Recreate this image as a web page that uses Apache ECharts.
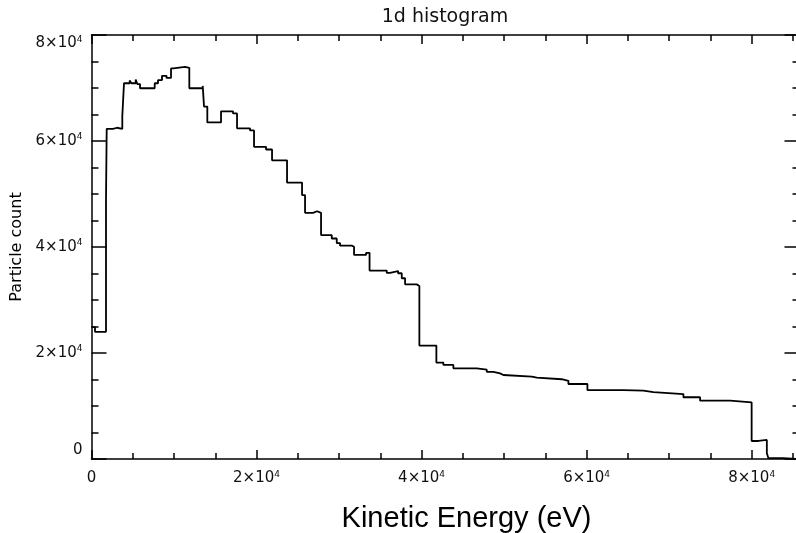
<!DOCTYPE html>
<html>
<head>
<meta charset="utf-8">
<script src="https://cdn.jsdelivr.net/npm/echarts@6/dist/echarts.min.js"></script>
<style>
html,body{margin:0;padding:0;background:#fff;}
#chart{width:796px;height:533px;}
</style>
</head>
<body>
<div id="chart"></div>
<script>
// Bin start energies (eV) of each histogram level
const binStart = [0, 424, 1758, 1842, 2606, 3091, 3733, 3939, 4630, 4824, 5357, 5551, 5879,
  7660, 8060, 8545, 9091, 9636, 9939, 11333, 11854, 13479, 13636, 14036, 15697, 17152, 17636,
  19212, 19697, 21152, 21879, 23697, 25515, 25879, 26848, 27333, 27818, 29115, 29721, 30121,
  31539, 31818, 33273, 33697, 35782, 36182, 37152, 37600, 38000, 39418, 39733, 41794, 42642,
  43855, 46691, 47903, 48703, 49515, 49915, 53357, 53963, 56994, 57794, 60097, 64460, 66885,
  68097, 71733, 73752, 77388, 80000, 80824, 81842, 82036, 83855, 85800];
// Particle count of each level
const counts = [24900, 24000, 48900, 62300, 62500, 62300, 64700, 70900, 71400, 70900, 71600, 70750, 69950,
  70900, 71500, 72300, 71900, 73700, 74000, 73800, 69950, 70400, 66500, 63500, 65600, 65200, 62400,
  62000, 58900, 58400, 56350, 52150, 49800, 46450, 46750, 46450, 42250, 41600, 40750, 40250,
  40050, 38500, 38900, 35550, 35100, 35450, 35050, 34100, 32950, 32650, 21400, 18200, 17750,
  17100, 16850, 16450, 16150, 15850, 15550, 15350, 15050, 14750, 14150, 13000, 12900, 12600,
  12250, 11650, 11000, 10700, 3400, 3600, 1100, 150, 0, 0];

const xMajorTicks = [0, 20000, 40000, 60000, 80000];
const yMajorTicks = [0, 20000, 40000, 60000, 80000];

const X_MIN = 0, X_MAX = 85800, Y_MIN = 0, Y_MAX = 80000;

const seriesData = binStart.map((e, i) => [e, counts[i]]);

function sciLabel(v) {
  if (v === 0) return '{b|0}';
  return '{b|' + (v / 10000) + '×10}{s|4}';
}
const labelRich = {
  b: {fontFamily: 'DejaVu Sans', fontSize: 15, color: '#111', lineHeight: 17, verticalAlign: 'middle'},
  s: {fontFamily: 'DejaVu Sans', fontSize: 9, color: '#111', lineHeight: 9, verticalAlign: 'top'}
};
const axisLineStyle = {color: '#000', width: 1.5};
const tickStyle = {color: '#000', width: 1.5};

function xAx(pos, major, withLabels) {
  const a = {
    type: 'value', position: pos, min: X_MIN, max: X_MAX,
    interval: major ? 20000 : 5000,
    axisLine: {show: major, onZero: false, lineStyle: axisLineStyle},
    axisTick: {show: true, inside: true, length: major ? 9 : 6, lineStyle: tickStyle},
    axisLabel: {show: false},
    splitLine: {show: false}
  };
  if (major) {
    a.axisTick.customValues = xMajorTicks;
  }
  if (withLabels) {
    a.axisLabel = {show: true, margin: 11, customValues: xMajorTicks, formatter: sciLabel, rich: labelRich};
    a.name = 'Kinetic Energy (eV)';
    a.nameLocation = 'middle';
    a.nameGap = 45;
    a.nameTextStyle = {fontFamily: 'Liberation Sans', fontSize: 29, color: '#000', padding: [0, 0, 0, 42]};
  }
  return a;
}
function yAx(pos, major, withLabels) {
  const a = {
    type: 'value', position: pos, min: Y_MIN, max: Y_MAX,
    interval: major ? 20000 : 5000,
    axisLine: {show: major, onZero: false, lineStyle: axisLineStyle},
    axisTick: {show: true, inside: true, length: major ? 15 : 7, lineStyle: tickStyle},
    axisLabel: {show: false},
    splitLine: {show: false}
  };
  if (major) {
    a.axisTick.customValues = yMajorTicks;
  }
  if (withLabels) {
    a.axisLabel = {show: true, margin: 9, customValues: yMajorTicks, formatter: sciLabel, rich: labelRich,
      verticalAlignMinLabel: 'bottom', verticalAlignMaxLabel: 'top'};
    a.name = 'Particle count';
    a.nameLocation = 'middle';
    a.nameGap = 66;
    a.nameTextStyle = {fontFamily: 'DejaVu Sans', fontSize: 16, color: '#000'};
  }
  return a;
}

const chart = echarts.init(document.getElementById('chart'), null, {renderer: 'canvas'});
chart.setOption({
  animation: false,
  backgroundColor: '#fff',
  title: {
    text: '1d histogram', left: 445, top: 8, textAlign: 'center', padding: 0,
    textStyle: {fontFamily: 'DejaVu Sans', fontSize: 19, fontWeight: 'normal', color: '#111'}
  },
  grid: {left: 91.5, top: 35, width: 708, height: 424, containLabel: false, outerBoundsMode: 'none'},
  xAxis: [xAx('bottom', true, true), xAx('bottom', false, false), xAx('top', true, false), xAx('top', false, false)],
  yAxis: [yAx('left', true, true), yAx('left', false, false), yAx('right', true, false), yAx('right', false, false)],
  series: [{
    type: 'line', xAxisIndex: 0, yAxisIndex: 0,
    step: 'end', showSymbol: false, symbol: 'none',
    data: seriesData,
    lineStyle: {color: '#000', width: 1.8},
    clip: true
  }]
});
</script>
</body>
</html>
